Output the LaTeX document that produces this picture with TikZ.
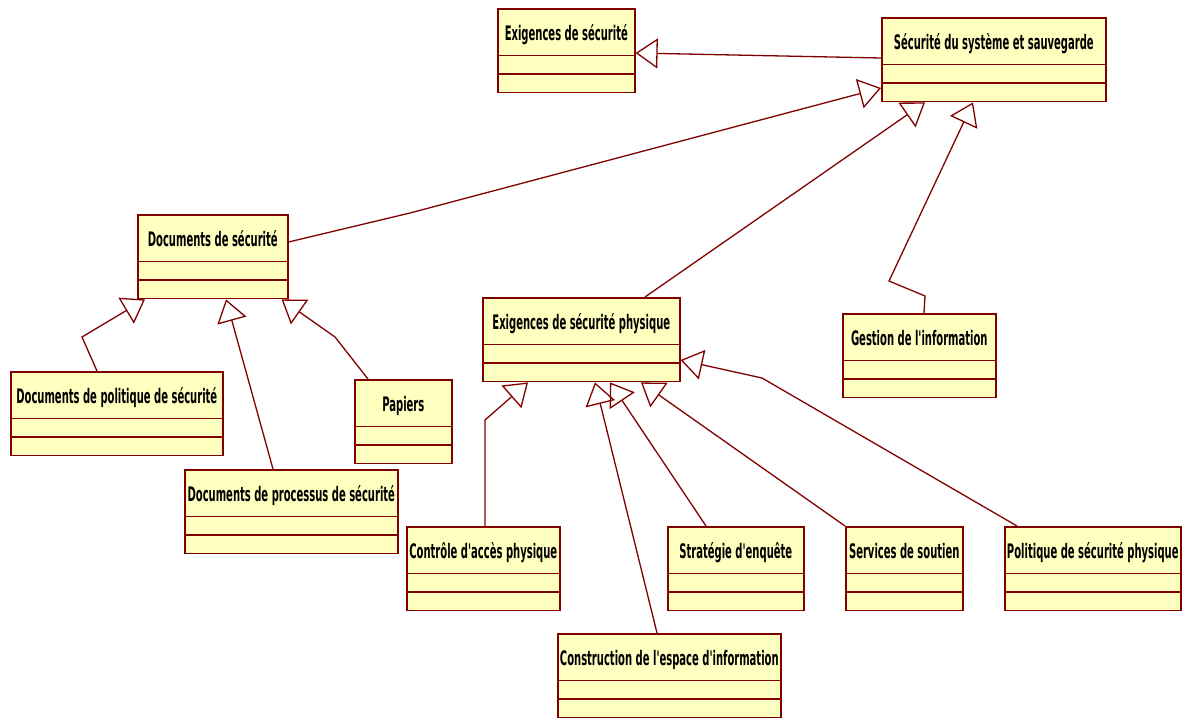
\documentclass[tikz,border=0pt]{standalone}
\usepackage{fontspec}
\newfontfamily\classfont{DejaVu Sans}[FakeStretch=0.5]
\usetikzlibrary{arrows.meta,shapes.multipart,calc}

\definecolor{rosered}{RGB}{128,0,0}
\definecolor{roseyellow}{RGB}{255,255,192}
% class name compartment
\newcommand{\cname}[1]{\rule[-14pt]{0pt}{45pt}#1}

\begin{document}
\begin{tikzpicture}[->,>={Triangle[open,length=22pt,width=30pt]},x=1pt,y=-1pt,
    class/.style={rectangle split,rectangle split parts=3,draw=rosered,fill=roseyellow,
      line width=1.6pt,inner ysep=0pt,inner xsep=0pt,rectangle split empty part height=17pt,
      anchor=north west,font=\classfont\bfseries\fontsize{20}{22}\selectfont},
    gen/.style={draw=rosered,line width=1.3pt}]

  \useasboundingbox (0,0) rectangle (1188,720);

  \node[class,minimum width=137pt] (ex) at (497,8) {\cname{Exigences de sécurité}};
  \node[class,minimum width=224pt] (ss) at (881,17) {\cname{Sécurité du système et sauvegarde}};
  \node[class,minimum width=150pt] (ds) at (137,214) {\cname{Documents de sécurité}};
  \node[class,minimum width=212pt] (dpol) at (10,371) {\cname{Documents de politique de sécurité}};
  \node[class,minimum width=97pt] (pap) at (354,379) {\cname{Papiers}};
  \node[class,minimum width=213pt] (dproc) at (184,469) {\cname{Documents de processus de sécurité}};
  \node[class,minimum width=197pt] (ep) at (482,297) {\cname{Exigences de sécurité physique}};
  \node[class,minimum width=153pt] (gi) at (842,313) {\cname{Gestion de l'information}};
  \node[class,minimum width=153pt] (cap) at (406,526) {\cname{Contrôle d'accès physique}};
  \node[class,minimum width=223pt] (cons) at (557,633) {\cname{Construction de l'espace d'information}};
  \node[class,minimum width=136pt] (strat) at (667,526) {\cname{Stratégie d'enquête}};
  \node[class,minimum width=117pt] (serv) at (845,526) {\cname{Services de soutien}};
  \node[class,minimum width=176pt] (ppol) at (1004,526) {\cname{Politique de sécurité physique}};

  % generalisations towards the top
  \draw[gen] ($(ss.north west)+(0,41)$) -- ($(ex.north east)+(0,45)$);
  \draw[gen] ($(ds.north east)+(0,28)$) -- (410,213) -- ($(ss.north west)+(0,71)$);
  \draw[gen] ($(ep.north west)+(163,0)$) -- ($(ss.south west)+(44,0)$);
  \draw[gen] ($(gi.north west)+(82,0)$) -- ++(1,-17) -- (889,281) -- ($(ss.south west)+(92,0)$);

  % document kinds
  \draw[gen] ($(dpol.north west)+(87,0)$) -- (82,337) -- ($(ds.south west)+(8,0)$);
  \draw[gen] ($(dproc.north west)+(89,0)$) -- ($(ds.south west)+(89,0)$);
  \draw[gen] ($(pap.north west)+(14,0)$) -- (335,337) -- ($(ds.south east)+(-7,0)$);

  % physical requirements
  \draw[gen] ($(cap.north west)+(79,0)$) -- (485,420) -- ($(ep.south west)+(46,0)$);
  \draw[gen] ($(cons.north west)+(100,0)$) -- ($(ep.south west)+(113,0)$);
  \draw[gen] ($(strat.north west)+(39,0)$) -- ($(ep.south west)+(128,0)$);
  \draw[gen] (serv.north west) -- ($(ep.south west)+(159,0)$);
  \draw[gen] ($(ppol.north west)+(13,0)$) -- (762,378) -- ($(ep.north east)+(0,63)$);
\end{tikzpicture}
\end{document}
